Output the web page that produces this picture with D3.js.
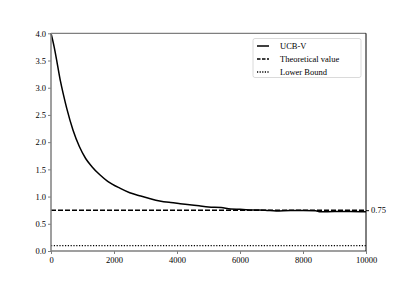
<!DOCTYPE html>
<html>
<head>
<meta charset="utf-8">
<script src="https://cdn.jsdelivr.net/npm/d3@7"></script>
<style>
  body { margin: 0; background: #fff; }
  text { font-family: "Liberation Serif", "DejaVu Serif", serif; }
</style>
</head>
<body>
<script>
// values
var steps = [0, 100, 200, 300, 400, 500, 700, 900, 1100, 1300, 1550, 1800, 2200, 2500, 2850,
  3100, 3450, 3800, 4100, 4400, 4700, 5000, 5400, 5700, 6000, 6400, 6800, 7150, 7600,
  8000, 8400, 8550, 9000, 9500, 10000];
var ucbv = [4.0, 3.75, 3.44, 3.12, 2.86, 2.62, 2.22, 1.92, 1.70, 1.55, 1.40, 1.28, 1.15, 1.07, 1.01,
  0.97, 0.92, 0.89, 0.87, 0.85, 0.83, 0.81, 0.80, 0.77, 0.765, 0.755, 0.75, 0.735, 0.745,
  0.745, 0.74, 0.72, 0.725, 0.725, 0.72];
var theoretical = 0.75;
var lowerBound = 0.1;
var xTicks = [0, 2000, 4000, 6000, 8000, 10000];
var yTicks = [0.0, 0.5, 1.0, 1.5, 2.0, 2.5, 3.0, 3.5, 4.0];
var legendNames = ["UCB-V", "Theoretical value", "Lower Bound"];

var W = 407, H = 282;
var plotLeft = 51, plotRight = 366, plotTop = 33.3, plotBottom = 251;

var svg = d3.select("body").append("svg")
  .attr("width", W).attr("height", H);

var x = d3.scaleLinear().domain([0, 10000]).range([plotLeft, plotRight]);
var y = d3.scaleLinear().domain([0, 4]).range([plotBottom, plotTop]);

var gray = "#7f7f7f";

// bottom axis
var gx = svg.append("g")
  .attr("transform", "translate(0," + plotBottom + ")")
  .call(d3.axisBottom(x).tickValues(xTicks).tickSize(3).tickPadding(3).tickFormat(d3.format("d")));
gx.select(".domain").remove();
gx.selectAll("line").attr("stroke", gray);
gx.selectAll("text").attr("font-size", "8.5px").attr("fill", "#000");

// left axis
var gy = svg.append("g")
  .attr("transform", "translate(" + plotLeft + ",0)")
  .call(d3.axisLeft(y).tickValues(yTicks).tickSize(3).tickPadding(2).tickFormat(d3.format(".1f")));
gy.select(".domain").remove();
gy.selectAll("line").attr("stroke", gray);
gy.selectAll("text").attr("font-size", "8.5px").attr("fill", "#000");

// right axis, one tick at the theoretical value
var gr = svg.append("g")
  .attr("transform", "translate(" + plotRight + ",0)")
  .call(d3.axisRight(y).tickValues([theoretical]).tickSize(3).tickPadding(2).tickFormat(d3.format(".2f")));
gr.select(".domain").remove();
gr.selectAll("text").attr("font-size", "8.5px").attr("fill", "#000");

// reference lines
svg.append("line")
  .attr("x1", x(0)).attr("x2", x(10000))
  .attr("y1", y(theoretical)).attr("y2", y(theoretical))
  .attr("stroke", "#000").attr("stroke-width", 1.4).attr("stroke-dasharray", "5,2");

svg.append("line")
  .attr("x1", x(0)).attr("x2", x(10000))
  .attr("y1", y(lowerBound)).attr("y2", y(lowerBound))
  .attr("stroke", "#000").attr("stroke-width", 1.2).attr("stroke-dasharray", "1.2,1.6");

var line = d3.line()
  .x(function (d, i) { return x(steps[i]); })
  .y(function (d) { return y(d); })
  .curve(d3.curveMonotoneX);

svg.append("path")
  .datum(ucbv)
  .attr("fill", "none")
  .attr("stroke", "#000")
  .attr("stroke-width", 1.5)
  .attr("d", line);

// spines
svg.append("line").attr("x1", plotLeft).attr("x2", plotRight).attr("y1", plotTop).attr("y2", plotTop)
  .attr("stroke", gray).attr("stroke-width", 1.2);
svg.append("line").attr("x1", plotLeft).attr("x2", plotRight).attr("y1", plotBottom).attr("y2", plotBottom)
  .attr("stroke", gray).attr("stroke-width", 1.5);
svg.append("line").attr("x1", plotLeft).attr("x2", plotLeft).attr("y1", plotTop).attr("y2", plotBottom)
  .attr("stroke", gray).attr("stroke-width", 1.5);
svg.append("line").attr("x1", plotRight).attr("x2", plotRight).attr("y1", plotTop).attr("y2", plotBottom)
  .attr("stroke", "#000").attr("stroke-width", 1);

// legend
var lg = svg.append("g").attr("transform", "translate(253,38.5)");
lg.append("rect")
  .attr("width", 108).attr("height", 39).attr("rx", 2)
  .attr("fill", "#fff").attr("fill-opacity", 0.8)
  .attr("stroke", "#d0d0d0").attr("stroke-width", 0.8);

var dashes = [null, "3.5,1.5", "1.2,1.4"];
legendNames.forEach(function (name, i) {
  var ly = 7.5 + i * 13;
  lg.append("line")
    .attr("x1", 4).attr("x2", 16).attr("y1", ly).attr("y2", ly)
    .attr("stroke", "#000").attr("stroke-width", 1.5)
    .attr("stroke-dasharray", dashes[i]);
  lg.append("text")
    .attr("x", 27).attr("y", ly + 3)
    .attr("font-size", "8.5px").attr("fill", "#000")
    .text(name);
});
</script>
</body>
</html>
